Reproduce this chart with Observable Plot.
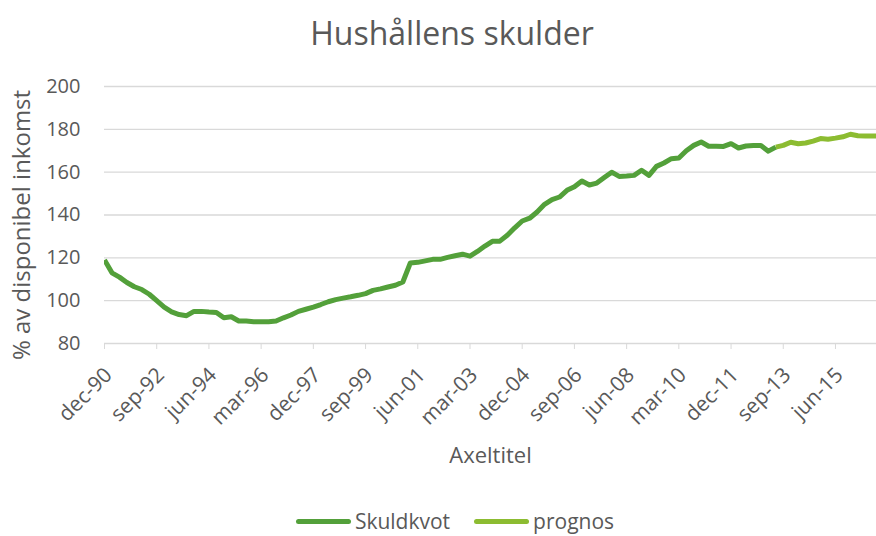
<!DOCTYPE html>
<html>
<head>
<meta charset="utf-8">
<script src="https://cdn.jsdelivr.net/npm/d3@7"></script>
<script src="https://cdn.jsdelivr.net/npm/@observablehq/plot@0.6"></script>
<style>
  body { margin: 0; background: #fff; font-family: "Open Sans", sans-serif; color: #595959; }
  #wrap { position: relative; width: 876px; height: 536px; overflow: hidden; }
  #title { position: absolute; top: 1px; left: 14px; width: 876px; height: 64px; text-align: center; font-size: 32px; line-height: 64px; color: #595959; }
  #chart { position: absolute; top: 64px; left: 0; }
  #legend { position: absolute; top: 508px; left: 17px; width: 876px; display: flex; justify-content: center; align-items: center; font-size: 21px; line-height: 26px; color: #595959; }
  .item { display: flex; align-items: center; margin: 0 12px; }
  .sw { width: 55px; height: 5px; border-radius: 3px; margin-right: 4px; }
</style>
</head>
<body>
<div id="wrap">
  <div id="title">Hushållens skulder</div>
  <div id="chart"></div>
  <div id="legend"></div>
</div>
<script>
// Quarterly series starting dec-90 (index 0)
const skuldkvot = [
  119, 113, 111, 108.5, 106.5, 105.2, 103, 100, 97, 94.8,
  93.5, 93, 95, 95, 94.7, 94.5, 92, 92.5, 90.5, 90.5,
  90.2, 90.2, 90.2, 90.5, 92, 93.3, 95, 96, 97, 98.2,
  99.5, 100.5, 101.2, 101.8, 102.5, 103.3, 104.8, 105.5, 106.4, 107.2,
  108.7, 117.6, 117.9, 118.6, 119.3, 119.3, 120.2, 121, 121.7, 120.8,
  123, 125.5, 127.7, 127.8, 130.5, 134, 137.2, 138.5, 141.4, 145,
  147.2, 148.4, 151.5, 153.2, 155.9, 154, 154.9, 157.5, 160, 158,
  158.2, 158.5, 160.9, 158.5, 162.7, 164.3, 166.3, 166.6, 170, 172.5,
  174.1, 172.1, 172.1, 172, 173.3, 171.3, 172.2, 172.5, 172.4, 169.8,
  171.7
];
const prognosStart = 90;
const prognos = [
  171.7, 172.5, 174, 173.3, 173.6, 174.5, 175.7, 175.4, 175.9, 176.5,
  177.7, 177, 176.9, 176.9, 176.9
];
const tickLabels = ["dec-90","sep-92","jun-94","mar-96","dec-97","sep-99","jun-01","mar-03","dec-04","sep-06","jun-08","mar-10","dec-11","sep-13","jun-15"];
const yTicks = [80, 100, 120, 140, 160, 180, 200];
const seriesNames = ["Skuldkvot", "prognos"];
const colors = ["#53A03A", "#8CBC31"];

const data = [
  ...skuldkvot.map((v, i) => ({i, v, s: seriesNames[0]})),
  ...prognos.map((v, k) => ({i: prognosStart + k, v, s: seriesNames[1]}))
];
const tickIdx = tickLabels.map((_, k) => k * 7);

const plot = Plot.plot({
  width: 876,
  height: 440,
  marginTop: 22,
  marginLeft: 104,
  marginRight: 0,
  marginBottom: 161,
  style: { fontFamily: "Open Sans, sans-serif", fontSize: "20px", color: "#595959", background: "#fff" },
  x: { type: "linear", domain: [0, 103.5] },
  y: { domain: [80, 200] },
  color: { domain: seriesNames, range: colors },
  marks: [
    Plot.gridY(yTicks, { stroke: "#d9d9d9", strokeOpacity: 1, strokeWidth: 1.3 }),
    Plot.axisX(tickIdx, {
      tickSize: 6, stroke: "#d9d9d9", strokeOpacity: 1, text: null, label: null
    }),
    Plot.axisX(tickIdx, {
      tickSize: 0, tickPadding: 28, tickRotate: -45, dx: 4,
      tickFormat: d => tickLabels[d / 7],
      fill: "#595959", fontSize: 21,
      label: null
    }),
    Plot.axisY(yTicks, { tickSize: 0, tickPadding: 24, fontSize: 20, fill: "#595959", label: null }),
    Plot.text(["% av disponibel inkomst"], { frameAnchor: "left", textAnchor: "middle", rotate: -90, dx: -82, dy: 10, fontSize: 24, fill: "#595959" }),
    Plot.text(["Axeltitel"], { frameAnchor: "bottom", dy: 119, fontSize: 22, fill: "#595959" }),
    Plot.line(data, { x: "i", y: "v", z: "s", stroke: "s", strokeWidth: 5, strokeLinejoin: "round", strokeLinecap: "butt", clip: true })
  ]
});
document.getElementById("chart").appendChild(plot);

const legend = document.getElementById("legend");
seriesNames.forEach((n, k) => {
  const it = document.createElement("div");
  it.className = "item";
  const sw = document.createElement("div");
  sw.className = "sw";
  sw.style.background = colors[k];
  const t = document.createElement("span");
  t.textContent = n;
  it.appendChild(sw); it.appendChild(t);
  legend.appendChild(it);
});
</script>
</body>
</html>
